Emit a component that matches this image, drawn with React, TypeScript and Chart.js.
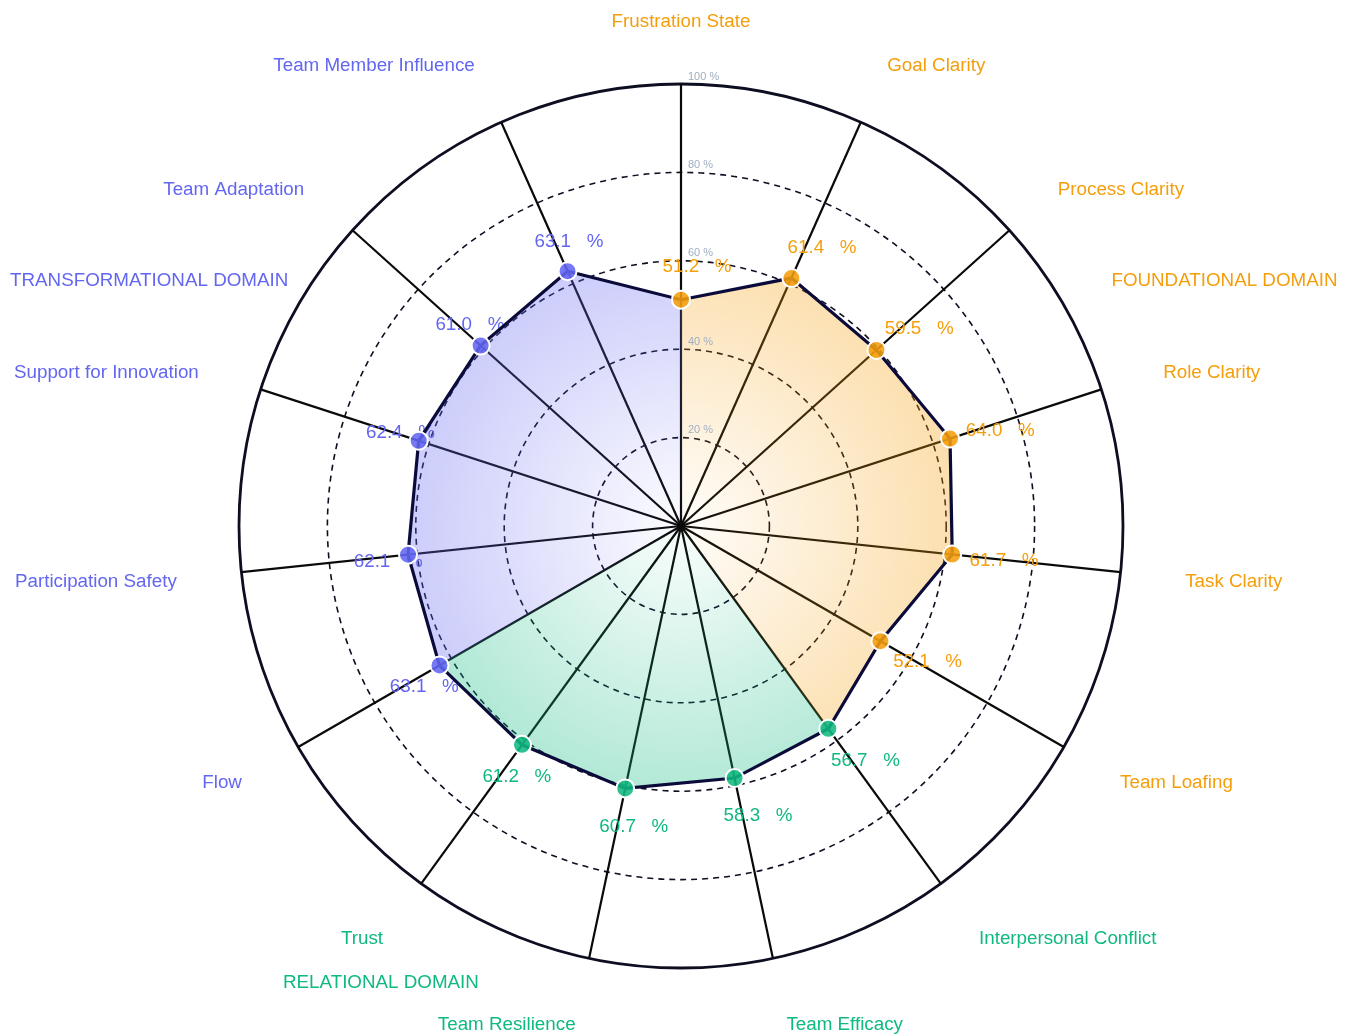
import { useEffect, useRef } from "react";
import { Chart, registerables } from "chart.js";

Chart.register(...registerables);

const FONT = '"Liberation Sans", Arial, Helvetica, sans-serif';

const categories = [
  "Frustration State",
  "Goal Clarity",
  "Process Clarity",
  "Role Clarity",
  "Task Clarity",
  "Team Loafing",
  "Interpersonal Conflict",
  "Team Efficacy",
  "Team Resilience",
  "Trust",
  "Flow",
  "Participation Safety",
  "Support for Innovation",
  "Team Adaptation",
  "Team Member Influence",
];

const scores = [51.2, 61.4, 59.5, 64.0, 61.7, 52.1, 56.7, 58.3, 60.7, 61.2, 63.1, 62.1, 62.4, 61.0, 63.1];

// 0 = foundational, 1 = relational, 2 = transformational
const categoryDomain = [0, 0, 0, 0, 0, 0, 1, 1, 1, 1, 2, 2, 2, 2, 2];

const domainNames = ["FOUNDATIONAL DOMAIN", "RELATIONAL DOMAIN", "TRANSFORMATIONAL DOMAIN"];
const domainColors = ["#f59e0b", "#10b981", "#6366f1"];
// first and last spoke of each shaded wedge (last may wrap past the end)
const domainSpanStart = [0, 6, 10];
const domainSpanEnd = [6, 10, 15];

const tickValues = [20, 40, 60, 80, 100];

function rgba(hex: string, a: number) {
  const n = parseInt(hex.slice(1), 16);
  return `rgba(${(n >> 16) & 255},${(n >> 8) & 255},${n & 255},${a})`;
}

function wedgeValues(d: number) {
  const n = categories.length;
  const s = domainSpanStart[d];
  const e = domainSpanEnd[d];
  return scores.map((v, i) => {
    const inside = (i >= s && i <= e) || (e >= n && i === e - n);
    return inside ? v : 0;
  });
}

function radialFill(chart: any, hex: string) {
  const r = chart.scales && chart.scales.r;
  if (!r || !r.drawingArea) return rgba(hex, 0.25);
  const g = chart.ctx.createRadialGradient(r.xCenter, r.yCenter, 0, r.xCenter, r.yCenter, r.drawingArea);
  g.addColorStop(0, rgba(hex, 0.02));
  g.addColorStop(1, rgba(hex, 0.52));
  return g;
}

function alignFor(angleDeg: number): CanvasTextAlign {
  const a = ((Math.round(angleDeg) % 360) + 360) % 360;
  if (a === 0 || a === 180) return "center";
  return a < 180 ? "left" : "right";
}

const annotatePlugin = {
  id: "annotate",
  beforeDatasetDraw(chart: any, args: any) {
    if (args.index !== 0) return;
    const r = chart.scales.r;
    const ctx = chart.ctx;
    ctx.save();
    ctx.font = `18.8px ${FONT}`;
    ctx.textAlign = "center";
    ctx.textBaseline = "middle";
    scores.forEach((v, i) => {
      const q = r.getPointPosition(i, r.getDistanceFromCenterForValue(v) + 36);
      ctx.fillStyle = domainColors[categoryDomain[i]];
      ctx.fillText(`${v.toFixed(1)}   %`, q.x + 16, q.y + 3);
    });
    ctx.restore();
  },
  afterDraw(chart: any) {
    const r = chart.scales.r;
    const ctx = chart.ctx;
    const n = categories.length;
    ctx.save();
    // radial tick labels
    ctx.font = `11px ${FONT}`;
    ctx.fillStyle = "#a0aec0";
    ctx.textAlign = "left";
    ctx.textBaseline = "middle";
    tickValues.forEach((t) => {
      const d = r.getDistanceFromCenterForValue(t);
      ctx.fillText(`${t} %`, r.xCenter + 7, r.yCenter - d - 7.5);
    });
    // category labels
    ctx.font = `18.8px ${FONT}`;
    categories.forEach((c, i) => {
      const p = r.getPointPosition(i, r.drawingArea + 65);
      ctx.fillStyle = domainColors[categoryDomain[i]];
      ctx.textAlign = alignFor((360 / n) * i);
      ctx.fillText(c, p.x, p.y + 3);
    });
    // domain labels, placed between spokes
    const between = [2.5, 8.5, 12.5];
    domainNames.forEach((name, d) => {
      const p = r.getPointPosition(between[d], r.drawingArea + 55);
      const align = alignFor((360 / n) * between[d]);
      const w = ctx.measureText(name).width;
      let left = align === "left" ? p.x : align === "right" ? p.x - w : p.x - w / 2;
      left = Math.max(10, Math.min(chart.width - 10 - w, left));
      ctx.fillStyle = domainColors[d];
      ctx.textAlign = "left";
      ctx.fillText(name, left, p.y + 3);
    });
    ctx.restore();
  },
};

export default function App() {
  const ref = useRef<HTMLCanvasElement | null>(null);

  useEffect(() => {
    if (!ref.current) return;
    const datasets: any[] = [
      {
        label: "Score",
        data: scores,
        fill: false,
        borderColor: "#0b0b3b",
        borderWidth: 3.2,
        pointRadius: 9,
        pointHoverRadius: 9,
        pointBackgroundColor: categoryDomain.map((d) => rgba(domainColors[d], 0.88)),
        pointBorderColor: "#ffffff",
        pointBorderWidth: 2,
      },
      ...domainNames.map((name, d) => ({
        label: name,
        data: wedgeValues(d),
        fill: "origin",
        borderWidth: 0,
        borderColor: "rgba(0,0,0,0)",
        pointRadius: 0,
        pointHoverRadius: 0,
        backgroundColor: (c: any) => radialFill(c.chart, domainColors[d]),
      })),
    ];

    const chart = new Chart(ref.current, {
      type: "radar",
      data: { labels: categories, datasets },
      plugins: [annotatePlugin],
      options: {
        responsive: false,
        animation: false,
        layout: { padding: { left: 239, right: 231, top: 84, bottom: 67 } },
        elements: { line: { tension: 0 } },
        plugins: { legend: { display: false }, tooltip: { enabled: false } },
        scales: {
          r: {
            min: 0,
            max: 100,
            ticks: { display: false, stepSize: 20 },
            pointLabels: { display: false },
            grid: {
              circular: true,
              color: "#0e0e22",
              lineWidth: (c: any) => (c.tick && c.tick.value === 100 ? 2.8 : 1.6),
            },
            border: {
              dash: (c: any) => (c.tick && c.tick.value === 100 ? [] : [6, 5]),
            },
            angleLines: { display: true, color: "#0a0a0a", lineWidth: 2.2 },
          },
        },
      } as any,
    });
    return () => chart.destroy();
  }, []);

  return (
    <div style={{ position: "absolute", left: 0, top: 0, width: 1354, height: 1035, background: "#fff" }}>
      <canvas ref={ref} width={1354} height={1035} style={{ display: "block", width: 1354, height: 1035 }} />
    </div>
  );
}
